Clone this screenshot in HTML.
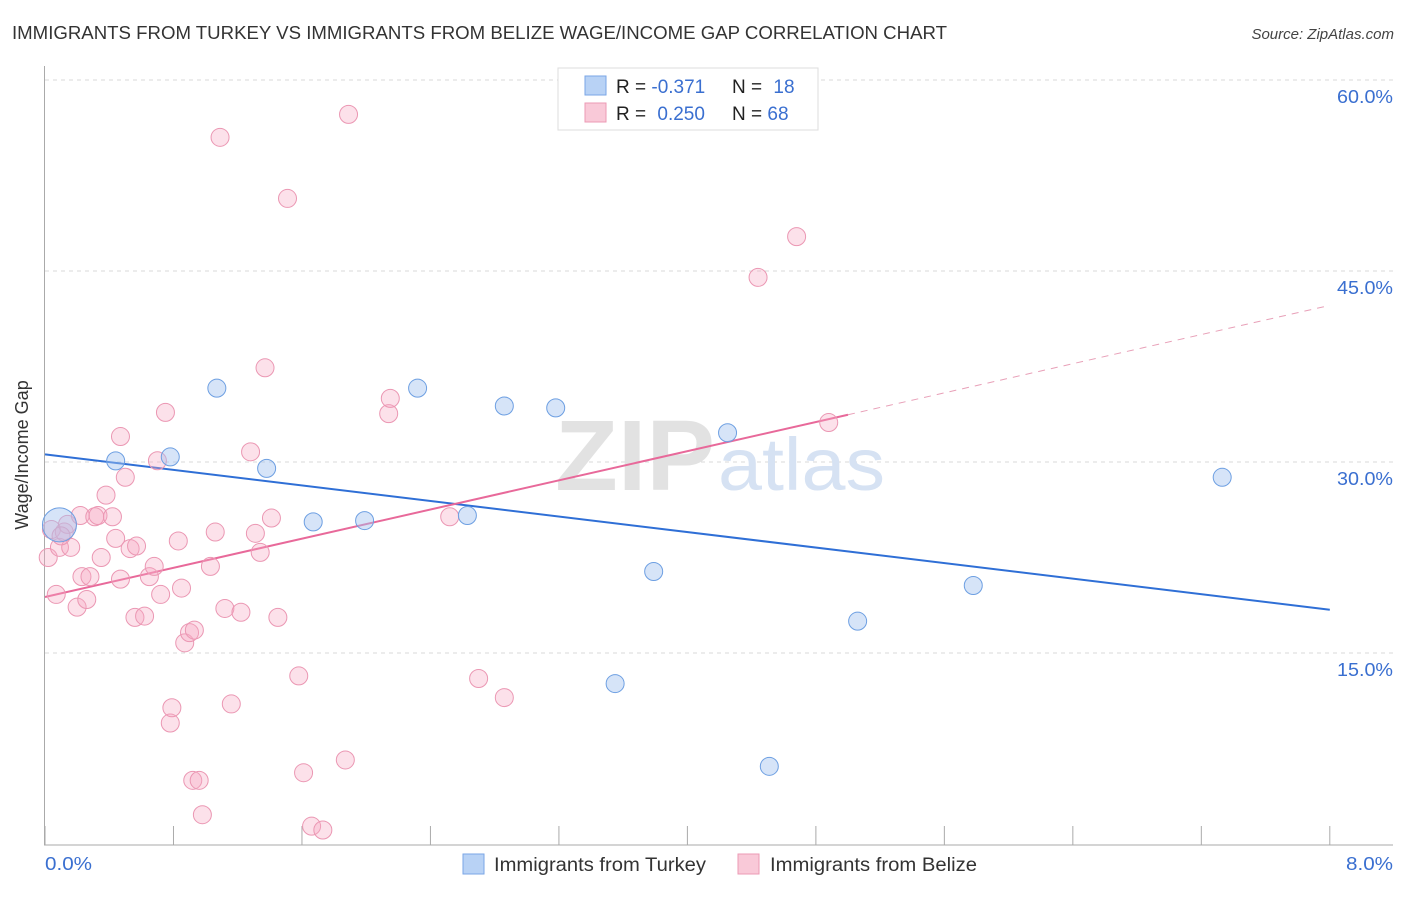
<!DOCTYPE html>
<html><head><meta charset="utf-8"><style>
body{margin:0;background:#fff;font-family:"Liberation Sans",sans-serif;}
svg text{font-family:"Liberation Sans",sans-serif;}
</style></head><body>
<svg id="chart" width="1406" height="892" xmlns="http://www.w3.org/2000/svg">
<text x="12" y="39" font-size="18" fill="#333" textLength="935" lengthAdjust="spacingAndGlyphs">IMMIGRANTS FROM TURKEY VS IMMIGRANTS FROM BELIZE WAGE/INCOME GAP CORRELATION CHART</text>
<text x="1394" y="39" font-size="15" fill="#444" font-style="italic" text-anchor="end">Source: ZipAtlas.com</text>
<g id="grid"></g>
<text x="555" y="490" font-size="100" font-family="Liberation Serif" fill="#e2e2e2" textLength="160" lengthAdjust="spacingAndGlyphs" font-weight="bold">ZIP</text>
<text x="718" y="490" font-size="74" fill="#d6e2f3" textLength="167" lengthAdjust="spacingAndGlyphs">atlas</text>
<g id="axes"></g>
<g id="lines"></g>
<g id="pts"></g>
<text x="28" y="455" font-size="18" fill="#333" text-anchor="middle" transform="rotate(-90 28 455)">Wage/Income Gap</text>
<text x="45" y="870" font-size="18" fill="#3a6fd0" textLength="47" lengthAdjust="spacingAndGlyphs">0.0%</text>
<text x="1346" y="870" font-size="18" fill="#3a6fd0" textLength="47" lengthAdjust="spacingAndGlyphs">8.0%</text>
<g>
<rect x="558" y="68" width="260" height="62" fill="#fff" stroke="#ddd"/>
<rect x="585" y="76" width="21" height="19" fill="#b8d2f5" stroke="#7aa6e6"/>
<rect x="585" y="103" width="21" height="19" fill="#f9c9d8" stroke="#ec9ab4"/>
<text x="616" y="93" font-size="19" fill="#222">R = <tspan fill="#3a6fd0">-0.371</tspan></text>
<text x="732" y="93" font-size="19" fill="#222">N = <tspan fill="#3a6fd0" dx="6">18</tspan></text>
<text x="616" y="120" font-size="19" fill="#222">R = <tspan fill="#3a6fd0" dx="6">0.250</tspan></text>
<text x="732" y="120" font-size="19" fill="#222">N = <tspan fill="#3a6fd0">68</tspan></text>
</g>
<g>
<rect x="463" y="854" width="21" height="20" fill="#b8d2f5" stroke="#7aa6e6"/>
<text x="494" y="871" font-size="19" fill="#333" textLength="212" lengthAdjust="spacingAndGlyphs">Immigrants from Turkey</text>
<rect x="738" y="854" width="21" height="20" fill="#f9c9d8" stroke="#ec9ab4"/>
<text x="770" y="871" font-size="19" fill="#333" textLength="207" lengthAdjust="spacingAndGlyphs">Immigrants from Belize</text>
</g>
</svg>
<script>
const yTicks=[15,30,45,60];
const yTickLabels=["15.0%","30.0%","45.0%","60.0%"];
const xTicks=[0,0.8,1.6,2.4,3.2,4,4.8,5.6,6.4,7.2,8];
const turkeyX=[0.09,0.44,0.78,1.07,1.38,1.67,1.99,2.32,2.63,2.86,3.18,3.55,3.79,4.25,4.51,5.06,5.78,7.33];
const turkeyY=[25.06,30.09,30.4,35.8,29.5,25.3,25.4,35.8,25.8,34.4,34.25,12.6,21.4,32.3,6.1,17.5,20.3,28.8];
const belizeX=[0.02,0.04,0.07,0.09,0.12,0.14,0.16,0.20,0.22,0.23,0.26,0.28,0.31,0.33,0.35,0.38,0.42,0.44,0.47,0.47,0.50,0.53,0.56,0.57,0.62,0.65,0.68,0.70,0.72,0.75,0.83,0.85,0.87,0.90,0.93,0.78,0.79,0.92,0.96,0.98,1.03,1.06,1.09,1.12,1.16,1.22,1.28,1.31,1.34,1.37,1.41,1.45,1.51,1.58,1.61,1.66,1.73,1.87,1.89,2.14,2.15,2.52,2.70,2.86,4.44,4.68,4.88,0.10];
const belizeY=[22.5,24.7,19.6,23.3,24.5,25.1,23.3,18.6,25.8,21.0,19.2,21.0,25.7,25.8,22.5,27.4,25.7,24.0,20.8,32.0,28.8,23.2,17.8,23.4,17.9,21.0,21.8,30.1,19.6,33.9,23.8,20.1,15.8,16.6,16.8,9.5,10.7,5.0,5.0,2.3,21.8,24.5,55.5,18.5,11.0,18.2,30.8,24.4,22.9,37.4,25.6,17.8,50.7,13.2,5.6,1.4,1.1,6.6,57.3,33.8,35.0,25.7,13.0,11.5,44.5,47.7,33.1,24.2];
const turkeyTrend=[30.6,18.4];
const belizeTrend=[19.4,42.3];
const belizeSolidEnd=5.0;
const bigPoint=[0];

const NS="http://www.w3.org/2000/svg";
const X=v=>45+v*160.6;
const Y=v=>844-v*12.733;
function mk(t,a,p){const e=document.createElementNS(NS,t);for(const k in a)e.setAttribute(k,a[k]);p.appendChild(e);return e;}
const grid=document.getElementById('grid'),axes=document.getElementById('axes'),lines=document.getElementById('lines'),pts=document.getElementById('pts');
yTicks.forEach((v,i)=>{
 const l=mk('line',{x1:45,x2:1393,y1:Y(v),y2:Y(v),stroke:'#d8d8d8','stroke-dasharray':'4,4'},grid);
 
 
 const t=mk('text',{x:1337,y:Y(v)+23,'font-size':18,fill:'#3a6fd0',textLength:56,lengthAdjust:'spacingAndGlyphs'},grid);
 t.textContent=yTickLabels[i];
 
 
});
const ya=mk('line',{x1:44.5,x2:44.5,y1:66,y2:845,stroke:'#aaa'},axes);


const xa=mk('line',{x1:44,x2:1393,y1:845,y2:845,stroke:'#aaa'},axes);


xTicks.forEach(v=>{
 const t=mk('line',{x1:X(v),x2:X(v),y1:826,y2:845,stroke:'#aaa'},axes);
 
 
});
const bl=mk('line',{x1:X(0),y1:Y(turkeyTrend[0]),x2:X(8),y2:Y(turkeyTrend[1]),stroke:'#2f6fd6','stroke-width':2},lines);


const pyAt=x=>belizeTrend[0]+(belizeTrend[1]-belizeTrend[0])*x/8;
const pl=mk('line',{x1:X(0),y1:Y(pyAt(0)),x2:X(belizeSolidEnd),y2:Y(pyAt(belizeSolidEnd)),stroke:'#e8699a','stroke-width':2},lines);


const pd=mk('line',{x1:X(belizeSolidEnd),y1:Y(pyAt(belizeSolidEnd)),x2:X(8),y2:Y(pyAt(8)),stroke:'#e8a0b8','stroke-width':1,'stroke-dasharray':'7,6'},lines);


belizeX.forEach((x,i)=>{
 const c=mk('circle',{cx:X(x),cy:Y(belizeY[i]),r:9,fill:'rgba(245,170,196,0.35)',stroke:'#eb97b3','stroke-width':1},pts);
 
 
});
turkeyX.forEach((x,i)=>{
 const c=mk('circle',{cx:X(x),cy:Y(turkeyY[i]),r:bigPoint.includes(i)?17:9,fill:'rgba(165,195,240,0.45)',stroke:'#6d9fe2','stroke-width':1},pts);
 
 
});
</script>
</body></html>
